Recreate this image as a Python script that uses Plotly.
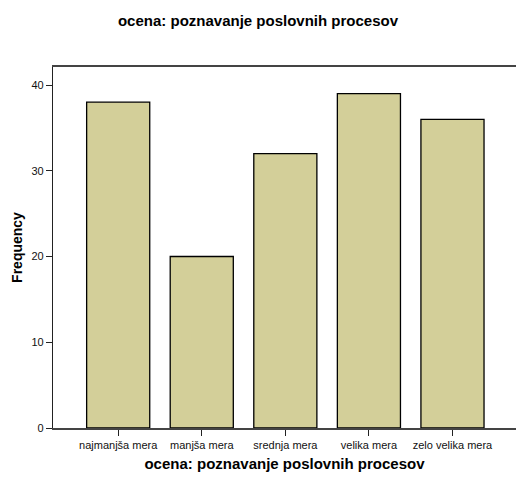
import plotly.graph_objects as go

categories = ["najmanjša mera", "manjša mera", "srednja mera", "velika mera", "zelo velika mera"]
frequencies = [38, 20, 32, 39, 36]
y_ticks = [0, 10, 20, 30, 40]

fig = go.Figure(go.Bar(
    x=categories, y=frequencies,
    marker=dict(color="#D3CF99", line=dict(color="black", width=1.3)),
    width=0.755,
))

fig.update_layout(
    width=516, height=485,
    margin=dict(l=53, r=0, t=67, b=57),
    paper_bgcolor="white", plot_bgcolor="white",
    showlegend=False,
    font=dict(family="Arial, Liberation Sans, sans-serif", color="black"),
    title=dict(text="<b>ocena: poznavanje poslovnih procesov</b>", x=0.5, xanchor="center",
               y=1 - 21/485, yanchor="middle", font=dict(size=15)),
    xaxis=dict(
        title=dict(text="<b>ocena: poznavanje poslovnih procesov</b>", font=dict(size=15), standoff=9),
        showline=True, mirror=True, linecolor="#444", linewidth=1.5,
        ticks="outside", ticklen=6, tickcolor="#222",
        tickfont=dict(size=11, color="#111"), range=[-0.78, 4.76],
        showgrid=False, automargin=False,
    ),
    yaxis=dict(
        title=dict(text="<b>Frequency</b>", font=dict(size=14), standoff=5),
        showline=True, linecolor="#222", linewidth=1.2,
        ticks="outside", ticklen=6, tickcolor="#222",
        tickvals=y_ticks, tickfont=dict(size=11, color="#111"),
        range=[0, 42.1], showgrid=False, zeroline=False, automargin=False,
    ),
)

fig.write_html("out.html", config={"displayModeBar": False},
               post_script="document.body.style.margin='0';")
